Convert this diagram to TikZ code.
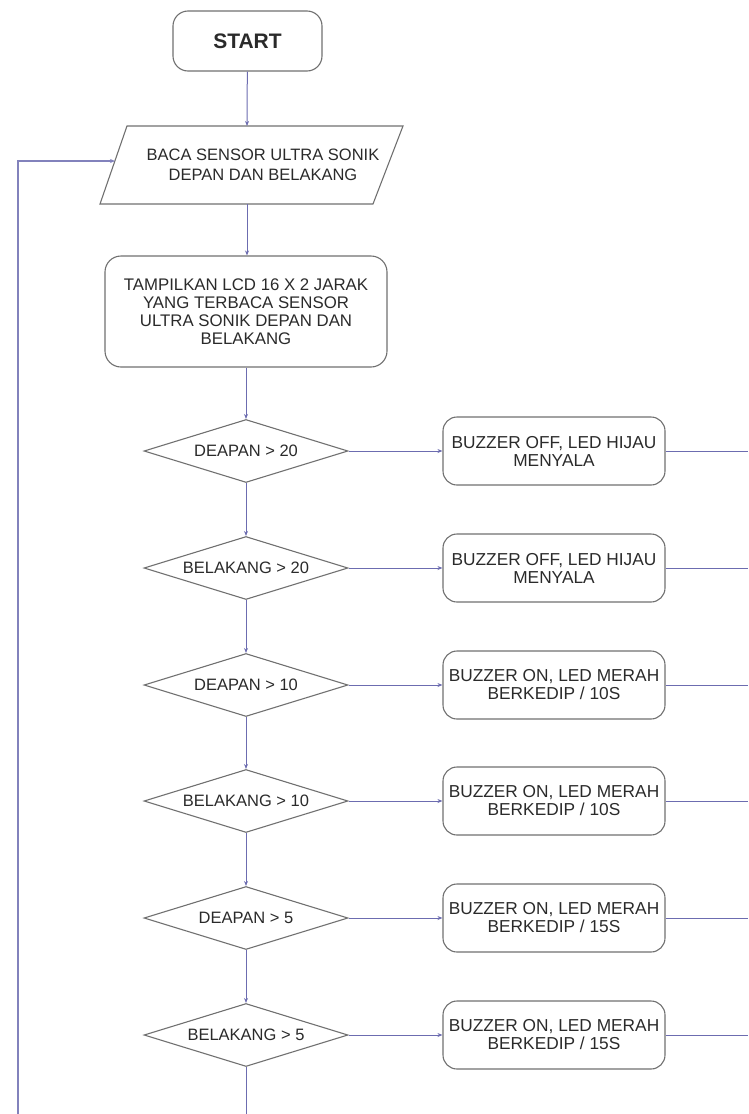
\documentclass[tikz,border=0pt]{standalone}
\usepackage{fontspec}
\setmainfont{Liberation Sans}
\usetikzlibrary{shapes.geometric,arrows.meta,calc}
\definecolor{flow}{HTML}{6C6CB0}
\definecolor{outline}{HTML}{707070}
\definecolor{ink}{HTML}{2A2A2A}
\begin{document}
\begin{tikzpicture}[x=1pt,y=-1pt,
  every node/.style={font=\fontsize{16.5}{18}\selectfont, text=ink},
  roundbox/.style={draw=outline, line width=1.1pt, rounded corners=14pt, align=center, inner sep=0pt},
  decision/.style={draw=outline, line width=1.1pt, diamond, aspect=3.24, inner sep=0pt,
                   minimum width=204, minimum height=63},
  actionbox/.style={roundbox, minimum width=222, minimum height=68,
                    font=\fontsize{17.3}{18}\selectfont},
  flowline/.style={draw=flow, line width=1pt},
  arrowline/.style={flowline, -{Stealth[length=5pt,width=4pt]}},
]
\useasboundingbox (0,0) rectangle (749,1114);

% start terminal
\node[roundbox, minimum width=149, minimum height=60, rounded corners=15pt,
      font=\bfseries\fontsize{21}{24}\selectfont] (start) at (247.5,41) {START};

% input: read both ultrasonic sensors
\draw[draw=outline, line width=1.1pt] (127,126) -- (403,126) -- (373,204) -- (100,204) -- cycle;
\node[align=center, font=\fontsize{16.5}{20}\selectfont] (baca) at (263,165)
  {BACA SENSOR ULTRA SONIK\\DEPAN DAN BELAKANG};
\coordinate (pTop) at (247,126);
\coordinate (pBot) at (247,204);
\coordinate (pIn) at (115,161);

% show distances on the LCD
\node[roundbox, minimum width=282, minimum height=111, rounded corners=16pt,
      font=\fontsize{16.8}{18}\selectfont] (lcd) at (246,311.5)
  {TAMPILKAN LCD 16 X 2 JARAK\\YANG TERBACA SENSOR\\ULTRA SONIK DEPAN DAN\\BELAKANG};

% decisions and their actions
\foreach \i/\y/\cond/\act in {
  1/451/{DEAPAN > 20}/{BUZZER OFF, LED HIJAU\\MENYALA},
  2/568/{BELAKANG > 20}/{BUZZER OFF, LED HIJAU\\MENYALA},
  3/685/{DEAPAN > 10}/{BUZZER ON, LED MERAH\\BERKEDIP / 10S},
  4/801/{BELAKANG > 10}/{BUZZER ON, LED MERAH\\BERKEDIP / 10S},
  5/918/{DEAPAN > 5}/{BUZZER ON, LED MERAH\\BERKEDIP / 15S},
  6/1035/{BELAKANG > 5}/{BUZZER ON, LED MERAH\\BERKEDIP / 15S}} {
  \node[decision] (d\i) at (246,\y) {\cond};
  \node[actionbox] (b\i) at (554,\y) {\act};
}

\coordinate (rEdge) at (748,0);
\coordinate (bEdge) at (0,1114);
\coordinate (loopBot) at (18,1114);

% connectors
\draw[arrowline] (start) -- (pTop);
\draw[arrowline] (pBot) -- (pBot |- lcd.north);
\draw[arrowline] (lcd) -- (d1);
\foreach \i/\j in {1/2,2/3,3/4,4/5,5/6}
  \draw[arrowline] (d\i) -- (d\j);
\foreach \i in {1,...,6} {
  \draw[arrowline] (d\i) -- (b\i);
  \draw[flowline] (b\i.east) -- (b\i.east -| rEdge);
}
\draw[flowline] (d6.south) -- (d6.south |- bEdge);
\draw[arrowline, draw=flow!85, line width=1.8pt] (loopBot) |- (pIn);
\end{tikzpicture}
\end{document}
